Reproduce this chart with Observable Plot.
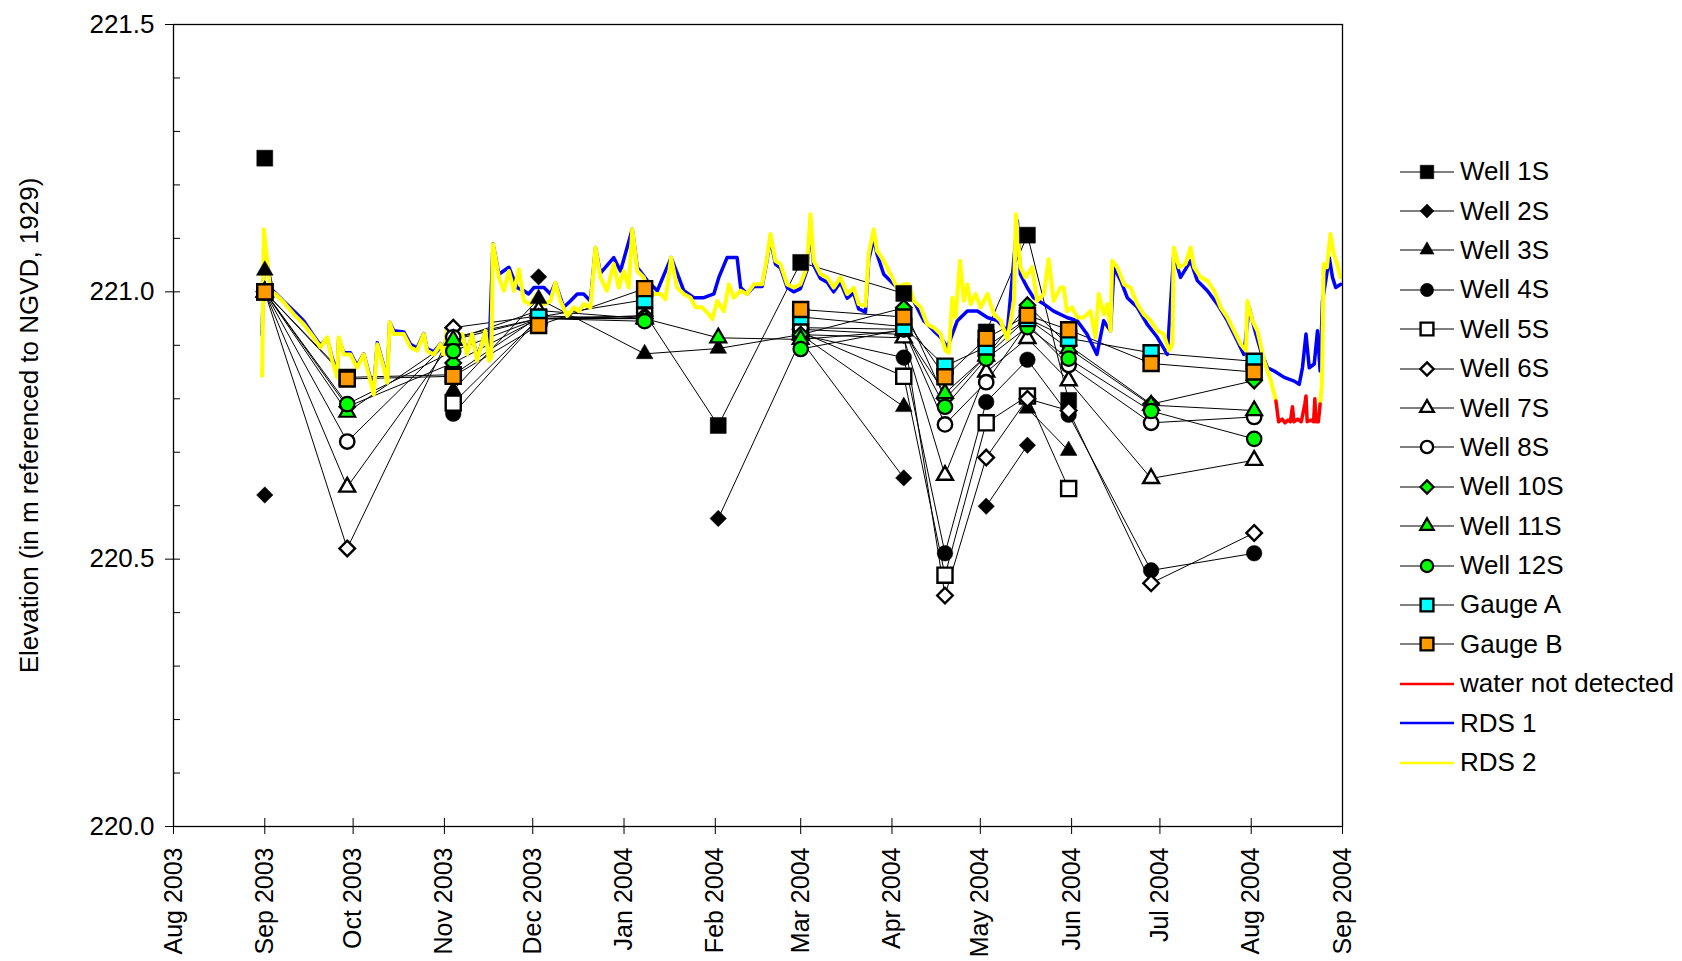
<!DOCTYPE html>
<html><head><meta charset="utf-8">
<script src="https://cdn.jsdelivr.net/npm/d3@7"></script>
<script src="https://cdn.jsdelivr.net/npm/@observablehq/plot@0.6"></script>
<style>
body{margin:0;background:#fff;font-family:"Liberation Sans",Arial,sans-serif;}
#wrap{position:relative;width:1682px;height:961px;overflow:hidden;}
#legend{position:absolute;left:1398px;top:152px;}
.row{height:39.4px;display:flex;align-items:center;font-size:26px;color:#000;white-space:nowrap;}
.row svg{width:60px;height:32px;margin-right:2px;flex:none;}
</style></head><body><div id="wrap"><div id="chart"></div><div id="legend"></div></div>
<script>
// ---------------- data ----------------
const sampleDates = ["2003-09-01","2003-09-29","2003-11-04","2003-12-03","2004-01-08","2004-02-02","2004-03-01","2004-04-05","2004-04-19","2004-05-03","2004-05-17","2004-05-31","2004-06-28","2004-08-02"];
const well1S  = [221.25, null, null, null, 220.96, 220.75, 221.055, 220.997, null, 220.925, 221.106, 220.797, null, null];
const well2S  = [220.62, null, null, 221.028, null, 220.576, 220.91, 220.652, null, 220.599, 220.713, null, null, null];
const well3S  = [221.04, null, 220.816, 220.987, 220.884, 220.894, 220.92, 220.785, null, null, 220.782, 220.703, null, null];
const well4S  = [221.0, null, 220.772, 220.95, 220.95, null, 220.92, 220.877, 220.511, 220.794, 220.873, 220.77, 220.479, 220.511];
const well5S  = [221.0, null, 220.792, 220.95, 220.955, null, 220.925, 220.842, 220.47, 220.755, 220.805, 220.632, null, null];
const well6S  = [221.0, 220.52, 220.933, 220.955, 220.95, null, 220.93, 220.92, 220.432, 220.69, 220.80, 220.778, 220.455, 220.549];
const well7S  = [221.0, 220.635, 220.91, 220.965, 220.95, null, 220.92, 220.914, 220.657, 220.85, 220.913, 220.834, 220.651, 220.685];
const well8S  = [221.0, 220.72, 220.915, 220.95, 220.95, null, 220.933, 220.93, 220.752, 220.831, 220.94, 220.863, 220.755, 220.766];
const well10S = [221.0, 220.785, 220.867, 220.95, 220.955, null, 220.92, 220.97, 220.80, 220.88, 220.975, 220.90, 220.79, 220.834];
const well11S = [221.0, 220.775, 220.91, 220.95, 220.95, 220.914, 220.911, 220.927, 220.81, 220.88, 220.95, 220.894, 220.788, 220.778];
const well12S = [221.0, 220.79, 220.889, 220.95, 220.945, null, 220.893, 220.93, 220.785, 220.875, 220.934, 220.875, 220.777, 220.725];
const gaugeA  = [221.0, 220.84, 220.845, 220.953, 220.985, null, 220.953, 220.935, 220.861, 220.897, 220.95, 220.913, 220.886, 220.87];
const gaugeB  = [221.0, 220.837, 220.842, 220.937, 221.006, null, 220.967, 220.953, 220.841, 220.913, 220.956, 220.929, 220.866, 220.85];

// continuous recorders: day offset from 2003-08-01, elevation (m)
const rds2Day = [30.1,30.7,31.8,32.9,34.6,37.5,40.9,44.3,47.6,49.9,52.2,53.9,55.6,56.1,57.8,60.1,62.3,64.6,66.9,68.0,69.2,71.4,72.6,73.4,74.8,78.2,80.5,82.7,85.0,86.1,88.4,90.7,91.8,92.9,94.1,96.3,98.0,99.7,101.4,103.1,105.9,107.1,107.9,108.5,110.5,112.2,113.9,115.6,117.3,119.0,121.2,123.5,125.8,128.0,129.7,131.4,133.7,136.0,137.7,139.3,141.6,143.3,145.0,
147.2,149.5,151.2,152.9,154.6,155.8,157.5,159.7,162.0,165.4,167.1,169.0,171.0,173.3,175.6,177.3,179.5,181.8,183.0,184.6,186.9,188.6,190.3,192.6,194.8,197.1,199.9,201.6,202.7,204.4,206.1,208.4,210.6,212.9,215.1,216.3,217.4,219.7,222.0,224.2,226.5,228.8,231.0,232.7,235.0,236.1,237.8,238.9,241.2,243.5,245.7,248.0,249.7,251.4,253.7,256.0,258.2,260.5,262.2,263.3,264.5,265.6,267.1,268.4,269.6,270.7,272.4,274.1,276.4,278.6,280.9,283.2,284.3,285.4,
286.1,287.6,289.3,291.6,293.3,295.6,297.2,298.9,301.2,302.3,303.4,305.2,306.9,309.1,311.4,313.1,314.2,315.9,317.1,318.2,318.8,320.5,322.8,325.0,327.3,329.5,331.8,334.1,336.3,338.0,339.2,339.7,341.5,343.7,345.4,346.6,348.8,351.1,353.4,355.6,357.9,360.2,362.4,364.2,364.7,366.4,368.1,370.4,372.7,374.4,381.0,389.4,390.0,390.6,391.7,392.9,394.0,395.2,396.3];
const rds2Val = [220.843,221.117,221.058,221.002,220.996,220.980,220.958,220.939,220.915,220.896,220.915,220.871,220.840,220.915,220.883,220.883,220.858,220.883,220.833,220.808,220.902,220.858,220.830,220.943,220.921,220.921,220.896,220.890,220.921,220.890,220.883,220.902,220.883,220.927,220.883,220.890,220.921,220.883,220.921,220.871,220.927,220.871,220.877,221.089,221.027,221.002,221.039,221.002,221.042,220.983,220.977,220.996,220.977,220.983,221.017,220.983,220.955,220.971,220.964,220.977,220.971,221.083,221.027,
221.002,221.052,221.008,221.039,221.008,221.117,221.039,221.027,220.996,220.996,220.986,221.064,221.008,220.996,220.989,220.971,220.971,220.958,220.949,220.983,220.964,221.014,220.989,221.002,220.996,221.014,221.014,221.064,221.108,221.058,221.052,221.014,221.008,221.014,221.046,221.145,221.058,221.033,221.027,221.008,221.027,220.996,221.008,220.977,220.974,221.071,221.117,221.077,221.058,221.033,221.008,221.014,221.014,220.983,220.971,220.939,220.933,220.921,220.890,220.886,220.989,220.952,221.058,220.983,221.014,220.977,220.996,220.971,220.996,220.958,220.946,220.911,220.946,220.983,
221.145,221.046,221.027,221.046,220.983,220.996,221.061,220.983,221.008,221.008,220.964,220.971,220.952,220.952,220.964,220.915,220.996,220.958,220.977,220.927,221.058,221.046,221.014,221.008,220.977,220.958,220.946,220.927,220.921,220.890,220.902,221.083,221.046,221.052,221.083,221.046,221.027,221.021,221.002,220.971,220.952,220.927,220.902,220.890,220.983,220.946,220.927,220.871,220.833,220.796,null,220.79,220.827,221.052,221.046,221.108,221.071,221.052,221.027];

const rds1Day = [30.1,30.8,31.8,33.5,37.5,42.0,44.3,47.6,49.9,52.2,53.9,55.6,56.1,57.8,60.1,62.3,64.6,66.9,68.0,69.2,71.4,72.6,73.4,74.8,78.2,80.5,82.7,85.0,86.1,88.4,90.7,91.8,92.9,94.1,96.3,98.0,99.7,101.4,103.1,105.9,107.1,108.5,110.5,113.9,116.7,119.0,120.6,122.4,125.8,128.0,129.7,132.5,134.8,137.1,139.3,141.6,143.3,145.0,
149.5,151.8,155.8,157.5,160.9,164.3,169.0,171.6,173.3,176.7,180.1,183.5,185.2,188.0,191.4,192.6,194.8,197.1,199.9,201.6,202.7,204.4,206.1,208.4,210.6,212.9,215.1,216.3,217.4,219.7,222.0,224.2,226.5,228.8,231.0,232.7,235.0,236.1,237.8,238.9,241.2,244.6,248.0,251.4,254.8,258.2,260.5,262.8,266.2,269.6,273.0,276.4,279.8,283.2,286.6,287.6,289.9,292.1,295.6,298.9,303.4,306.9,310.2,313.6,315.9,318.2,319.4,321.7,323.9,327.3,330.7,334.1,337.5,339.7,342.0,345.4,347.7,351.1,354.5,357.9,361.3,363.5,365.3,367.0,369.2,371.5,373.8,377.2,380.6,382.3,383.4,384.6,385.7,387.4,388.5,389.4,390.2,391.3,392.5,393.6,394.7,396.4];
const rds1Val = [220.92,221.08,221.052,221.004,220.982,220.958,220.945,220.918,220.900,220.913,220.876,220.850,220.912,220.886,220.886,220.862,220.884,220.838,220.818,220.905,220.862,220.838,220.943,220.927,220.925,220.902,220.895,220.922,220.894,220.888,220.903,220.888,220.925,220.887,220.893,220.920,220.887,220.920,220.876,220.926,220.876,221.09,221.033,221.046,221.008,221.002,220.996,221.008,221.008,220.996,221.017,220.971,220.983,220.996,220.996,220.983,221.083,221.035,
221.064,221.039,221.117,221.046,221.021,221.002,221.064,221.027,221.002,220.989,220.989,220.996,221.027,221.064,221.064,221.008,220.996,221.010,221.010,221.060,221.100,221.052,221.045,221.008,221.000,221.006,221.040,221.120,221.050,221.025,221.018,221.000,221.018,220.988,220.998,220.968,220.962,221.060,221.100,221.071,221.033,221.014,220.996,220.983,220.946,220.927,220.915,220.896,220.946,220.964,220.964,220.952,220.946,220.927,221.133,221.033,221.008,220.989,220.977,220.964,220.952,220.946,220.921,220.883,220.946,220.927,221.046,221.021,220.989,220.971,220.939,220.915,220.883,221.071,221.027,221.058,221.021,221.002,220.977,220.946,220.908,220.883,220.971,220.933,220.890,220.858,220.852,220.840,220.833,220.827,220.858,220.921,220.858,220.865,220.927,220.852,220.983,221.021,221.064,221.027,221.008,221.014];

const dryDay = [374.4,375.3,376.5,377.5,378.5,379.3,380.0,380.5,381.8,383.0,384.2,384.6,385.0,386.2,387.2,387.6,388.0,388.8,389.4];
const dryVal = [220.796,220.757,220.762,220.755,220.760,220.757,220.785,220.757,220.762,220.757,220.790,220.805,220.757,220.760,220.757,220.800,220.757,220.757,220.79];

const monthTicks = ["2003-08-01","2003-09-01","2003-10-01","2003-11-01","2003-12-01","2004-01-01","2004-02-01","2004-03-01","2004-04-01","2004-05-01","2004-06-01","2004-07-01","2004-08-01","2004-09-01"];
const yMajor = [220.0, 220.5, 221.0, 221.5];
const yMinor = [220.1, 220.2, 220.3, 220.4, 220.6, 220.7, 220.8, 220.9, 221.1, 221.2, 221.3, 221.4];
const yTitle = "Elevation (in m referenced to NGVD, 1929)";

// ---------------- build ----------------
const D = s => new Date(s + "T00:00:00Z");
const base = Date.UTC(2003, 7, 1);
const fromDay = d => new Date(base + d * 864e5);
const sampleX = sampleDates.map(D);

const GREEN = "#00ff00", CYAN = "#00ffff", ORANGE = "#ff9900";
const series = [
  {name: "Well 1S",  v: well1S,  sym: d3.symbolSquare,   r: 9.0, fill: "black", sw: 0.5},
  {name: "Well 2S",  v: well2S,  sym: d3.symbolDiamond2, r: 7.4, fill: "black", sw: 0.5},
  {name: "Well 3S",  v: well3S,  sym: d3.symbolTriangle2,r: 8.0, fill: "black", sw: 0.5},
  {name: "Well 4S",  v: well4S,  sym: d3.symbolCircle,   r: 7.8, fill: "black", sw: 0.5},
  {name: "Well 5S",  v: well5S,  sym: d3.symbolSquare,   r: 8.5, fill: "white", sw: 2.4},
  {name: "Well 6S",  v: well6S,  sym: d3.symbolDiamond2, r: 7.0, fill: "white", sw: 2.4},
  {name: "Well 7S",  v: well7S,  sym: d3.symbolTriangle2,r: 7.6, fill: "white", sw: 2.4},
  {name: "Well 8S",  v: well8S,  sym: d3.symbolCircle,   r: 7.2, fill: "white", sw: 2.4},
  {name: "Well 10S", v: well10S, sym: d3.symbolDiamond2, r: 7.0, fill: GREEN,   sw: 2.2},
  {name: "Well 11S", v: well11S, sym: d3.symbolTriangle2,r: 7.6, fill: GREEN,   sw: 2.2},
  {name: "Well 12S", v: well12S, sym: d3.symbolCircle,   r: 7.2, fill: GREEN,   sw: 2.2},
  {name: "Gauge A",  v: gaugeA,  sym: d3.symbolSquare,   r: 8.5, fill: CYAN,    sw: 2.4},
  {name: "Gauge B",  v: gaugeB,  sym: d3.symbolSquare,   r: 8.5, fill: ORANGE,  sw: 2.4}
];
series.forEach(s => s.data = sampleX.map((t, i) => ({t, v: s.v[i]})));

const rds1 = rds1Day.map((d, i) => ({t: fromDay(d), v: rds1Val[i]}));
const rds2 = rds2Day.map((d, i) => ({t: fromDay(d), v: rds2Val[i]}));
const dry  = dryDay.map((d, i) => ({t: fromDay(d), v: dryVal[i]}));

const marks = [];
for (const s of series) marks.push(Plot.line(s.data, {x: "t", y: "v", stroke: "black", strokeWidth: 1}));
marks.push(Plot.line(rds1, {x: "t", y: "v", stroke: "#0000ff", strokeWidth: 3.5}));
marks.push(Plot.line(rds2, {x: "t", y: "v", stroke: "#ffff00", strokeWidth: 4}));
marks.push(Plot.line(dry,  {x: "t", y: "v", stroke: "#ff0000", strokeWidth: 3.5}));
for (const s of series) {
  marks.push(Plot.dot(s.data.filter(d => d.v != null), {x: "t", y: "v", symbol: s.sym, r: s.r, fill: s.fill, stroke: "black", strokeWidth: s.sw}));
}
marks.push(
  Plot.frame({stroke: "black", strokeWidth: 1.3}),
  Plot.axisY({ticks: yMajor, tickSize: 15, dx: 7, tickFormat: () => "", label: null}),
  Plot.axisY({ticks: yMinor, tickSize: 7, dx: 7, tickFormat: () => "", label: null}),
  Plot.axisY({ticks: yMajor, tickSize: 0, tickPadding: 19, tickFormat: d3.format(".1f"), fontSize: 26, label: null}),
  Plot.axisX({ticks: monthTicks.map(D), tickSize: 16, dy: -8, tickFormat: () => "", label: null}),
  Plot.axisX({ticks: monthTicks.map(D), tickSize: 0, tickPadding: 21, tickRotate: -90, tickFormat: d3.utcFormat("%b %Y"), fontSize: 25, label: null}),
  Plot.text([yTitle], {frameAnchor: "left", dx: -144, rotate: -90, textAnchor: "middle", fontSize: 26})
);

const chart = Plot.plot({
  width: 1682, height: 961,
  marginLeft: 173, marginRight: 340, marginTop: 24, marginBottom: 135,
  style: {fontFamily: "'Liberation Sans', Arial, sans-serif", fontSize: "24px", color: "black", background: "white"},
  x: {type: "utc", domain: [D("2003-08-01"), D("2004-09-01")]},
  y: {domain: [220, 221.5]},
  marks
});
document.getElementById("chart").appendChild(chart);

// ---------------- legend ----------------
const legend = d3.select("#legend");
for (const s of series) {
  const row = legend.append("div").attr("class", "row");
  const svg = row.append("svg").attr("viewBox", "0 0 60 32");
  svg.append("line").attr("x1", 2).attr("x2", 56).attr("y1", 16).attr("y2", 16).attr("stroke", "black").attr("stroke-width", 1);
  svg.append("path").attr("transform", "translate(29,16)")
    .attr("d", d3.symbol(s.sym, Math.PI * (s.r * 0.85) ** 2)())
    .attr("fill", s.fill).attr("stroke", "black").attr("stroke-width", s.sw);
  row.append("span").text(s.name);
}
for (const [name, color] of [["water not detected", "#ff0000"], ["RDS 1", "#0000ff"], ["RDS 2", "#ffff00"]]) {
  const row = legend.append("div").attr("class", "row");
  const svg = row.append("svg").attr("viewBox", "0 0 60 32");
  svg.append("line").attr("x1", 2).attr("x2", 56).attr("y1", 16).attr("y2", 16).attr("stroke", color).attr("stroke-width", 2.5);
  row.append("span").text(name);
}
</script></body></html>
